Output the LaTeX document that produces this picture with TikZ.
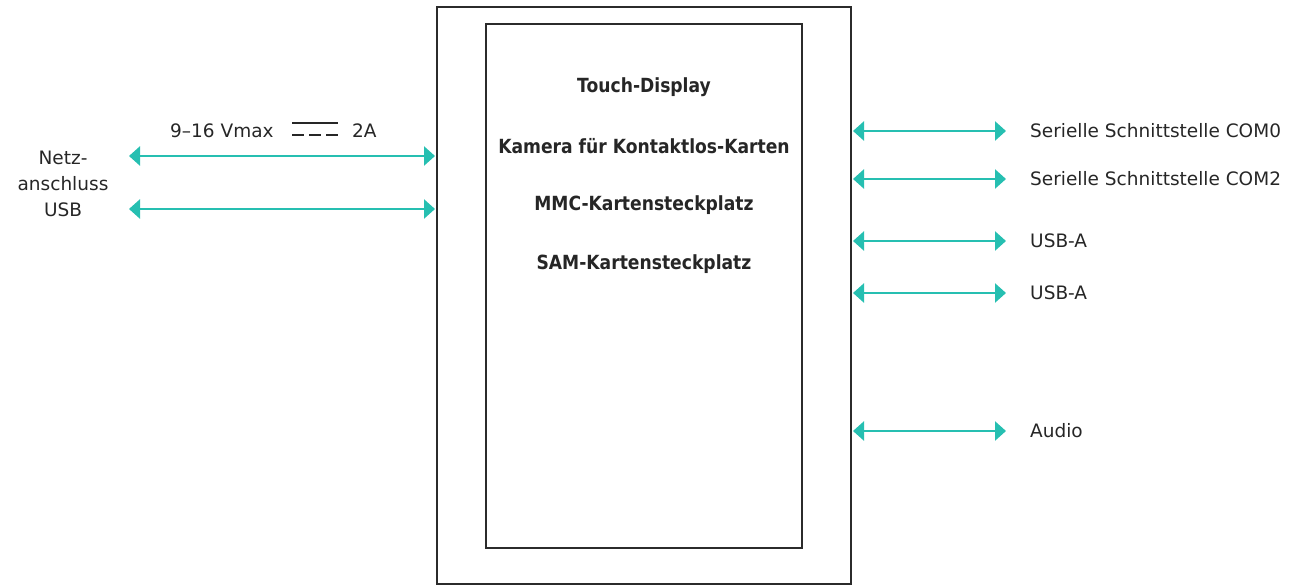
\documentclass[tikz,border=0pt]{standalone}
\usepackage{fontspec}
\setmainfont{DejaVu Sans}
\newfontfamily\featfont[FakeStretch=0.88]{DejaVu Sans Bold}
\usetikzlibrary{arrows.meta}
\definecolor{teal}{HTML}{26BFB1}
\definecolor{frame}{HTML}{2B2B2B}
\definecolor{ink}{HTML}{262626}
\tikzset{
  x=1pt, y=-1pt,
  box/.style={draw=frame, line width=2pt},
  link/.style={draw=teal, line width=2.6pt, {Triangle[length=11pt,width=19pt]}-{Triangle[length=11pt,width=19pt]}},
  lbl/.style={text=ink, font=\fontsize{18.5}{26}\selectfont, inner sep=0pt},
  feat/.style={text=ink, font=\featfont\fontsize{19.5}{24}\selectfont, inner sep=0pt},
}
\begin{document}
\begin{tikzpicture}
\useasboundingbox (0,0) rectangle (1304,586);
% housing and display
\draw[box] (437,7) rectangle (851,584);
\draw[box] (486,24) rectangle (802,548);
% features
\node[feat] (f1) at (644,87) {Touch-Display};
\node[feat] (f2) at (644,146) {Kamera für Kontaktlos-Karten};
\node[feat] (f3) at (644,205) {MMC-Kartensteckplatz};
\node[feat] (f4) at (644,264) {SAM-Kartensteckplatz};
% left side: power
\node[lbl, align=center] (pw) at (63,184) {Netz-\\anschluss\\USB};
\coordinate (p1a) at (129,156);
\coordinate (p1b) at (435,156);
\coordinate (p2a) at (129,209);
\coordinate (p2b) at (435,209);
\draw[link] (p1a) -- (p1b);
\draw[link] (p2a) -- (p2b);
\node[lbl, anchor=west] (volt) at (170,131) {9–16 Vmax};
\node[lbl, anchor=west] (amp) at (352,131) {2A};
% DC symbol
\coordinate (dc1) at (292,123);
\coordinate (dc2) at (338,123);
\coordinate (dc3) at (292,135);
\coordinate (dc4) at (338,135);
\draw[ink, line width=2.8pt] (dc1) -- (dc2);
\draw[ink, line width=2.8pt, dash pattern=on 12pt off 5pt] (dc3) -- (dc4);
% right side: interfaces
\foreach \y/\t [count=\i] in {131/Serielle Schnittstelle COM0, 179/Serielle Schnittstelle COM2, 241/USB-A, 293/USB-A, 431/Audio}{
  \coordinate (ra\i) at (853,\y);
  \coordinate (rb\i) at (1006,\y);
  \draw[link] (ra\i) -- (rb\i);
  \node[lbl, anchor=west] (rt\i) at (1030,\y) {\t};
}
\end{tikzpicture}
\end{document}
